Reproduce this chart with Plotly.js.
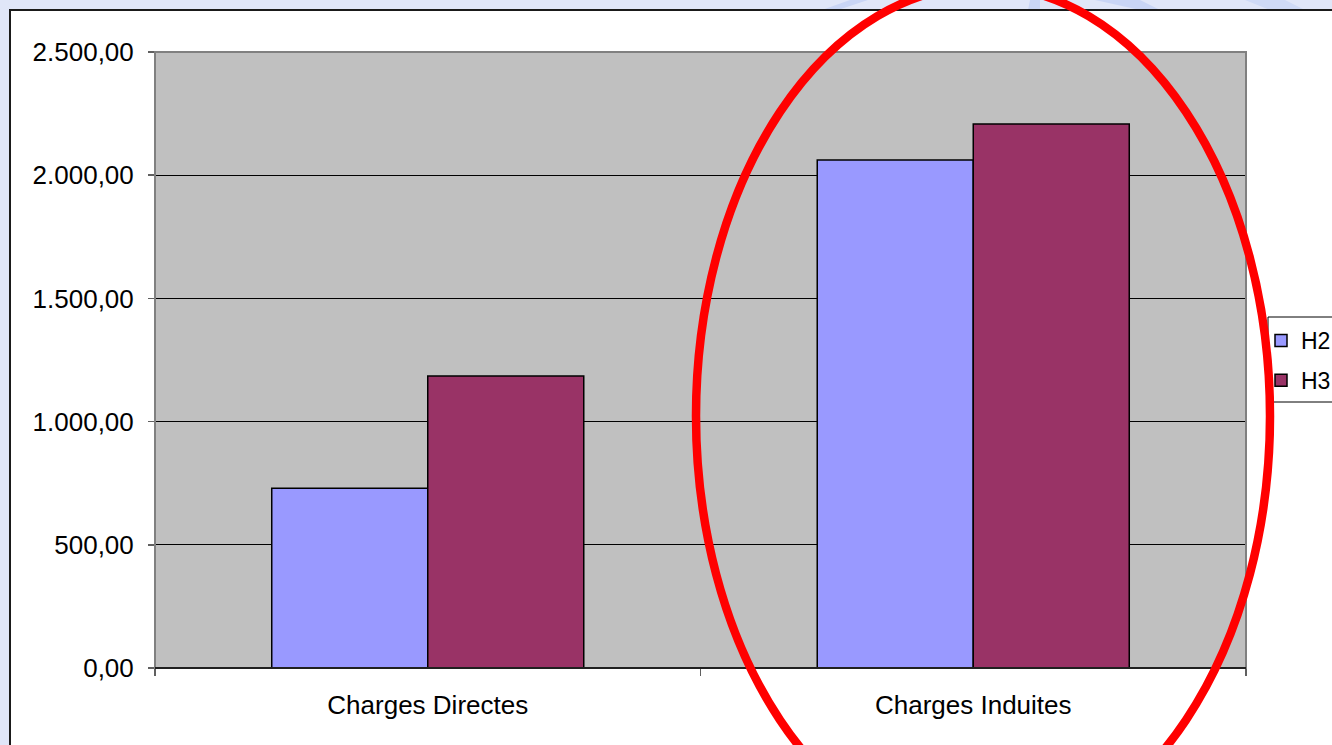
<!DOCTYPE html>
<html>
<head>
<meta charset="utf-8">
<script src="https://cdn.plot.ly/plotly-3.0.1.min.js"></script>
<style>
  html, body { margin: 0; padding: 0; background: #ffffff; }
  #chart { width: 1332px; height: 745px; }
</style>
</head>
<body>
<div id="chart"></div>
<script>
// Categories and series
const categories = ['Charges Directes', 'Charges Induites'];
const seriesNames = ['H2', 'H3'];
const h2Values = [730, 2062];
const h3Values = [1185, 2208];
const yTickValues = [0, 500, 1000, 1500, 2000, 2500];

// Figure geometry (pixels)
const W = 1332, H = 745;
const M = { l: 155, r: 86, t: 52, b: 77 };
const PW = W - M.l - M.r, PH = H - M.t - M.b;
const px2x = px => (px - M.l) / PW;
const px2y = py => (H - M.b - py) / PH;

const FONT = 'Liberation Sans, Arial, sans-serif';

const traces = [
  {
    type: 'bar', name: seriesNames[0], x: categories, y: h2Values,
    marker: { color: '#9999ff', line: { color: '#000000', width: 1.5 } },
    legendgroup: 'a', hoverinfo: 'skip'
  },
  {
    type: 'bar', name: seriesNames[1], x: categories, y: h3Values,
    marker: { color: '#993366', line: { color: '#000000', width: 1.5 } },
    legendgroup: 'b', hoverinfo: 'skip'
  }
];

// Frame strips, plot border, legend box and the highlight ellipse
const shapes = [
  { type: 'rect', xref: 'paper', yref: 'paper', layer: 'below',
    x0: px2x(0), x1: px2x(W + 5), y0: px2y(0), y1: px2y(10),
    fillcolor: '#e0e6f8', line: { width: 0 } },
  { type: 'rect', xref: 'paper', yref: 'paper', layer: 'below',
    x0: px2x(0), x1: px2x(10), y0: px2y(0), y1: px2y(H + 5),
    fillcolor: '#e0e6f8', line: { width: 0 } },
  // faint decorative strokes in the top strip
  { type: 'path', xref: 'paper', yref: 'paper', layer: 'below',
    path: `M ${px2x(822)},${px2y(10)} L ${px2x(838)},${px2y(10)} L ${px2x(868)},${px2y(0)} L ${px2x(850)},${px2y(0)} Z`,
    fillcolor: '#c9d5f5', line: { width: 0 } },
  { type: 'path', xref: 'paper', yref: 'paper', layer: 'below',
    path: `M ${px2x(1028)},${px2y(10)} L ${px2x(1040)},${px2y(10)} L ${px2x(1040)},${px2y(0)} L ${px2x(1030)},${px2y(0)} Z`,
    fillcolor: '#c9d5f5', line: { width: 0 } },
  { type: 'path', xref: 'paper', yref: 'paper', layer: 'below',
    path: `M ${px2x(1095)},${px2y(0)} L ${px2x(1140)},${px2y(0)} L ${px2x(1160)},${px2y(10)} L ${px2x(1140)},${px2y(10)} Z`,
    fillcolor: '#c9d5f5', line: { width: 0 } },
  { type: 'path', xref: 'paper', yref: 'paper', layer: 'below',
    path: `M ${px2x(1245)},${px2y(0)} L ${px2x(1285)},${px2y(0)} L ${px2x(1305)},${px2y(10)} L ${px2x(1270)},${px2y(10)} Z`,
    fillcolor: '#cfdaf6', line: { width: 0 } },
  // dark frame edges
  { type: 'line', xref: 'paper', yref: 'paper', layer: 'below',
    x0: px2x(9), x1: px2x(W + 5), y0: px2y(10), y1: px2y(10),
    line: { color: '#1a1a1a', width: 2 } },
  { type: 'line', xref: 'paper', yref: 'paper', layer: 'below',
    x0: px2x(10), x1: px2x(10), y0: px2y(9), y1: px2y(H + 5),
    line: { color: '#1a1a1a', width: 2 } },
  // legend box
  { type: 'rect', xref: 'paper', yref: 'paper', layer: 'below',
    x0: px2x(1268), x1: px2x(W + 10), y0: px2y(402), y1: px2y(317),
    fillcolor: '#ffffff', line: { color: '#000000', width: 1 } },
  // plot area border
  { type: 'rect', xref: 'paper', yref: 'paper', layer: 'above',
    x0: 0, x1: 1, y0: 0, y1: 1,
    line: { color: '#808080', width: 2 } },
  { type: 'line', xref: 'paper', yref: 'paper', layer: 'above',
    x0: 0, x1: 1, y0: 0, y1: 0,
    line: { color: '#000000', width: 1.5 } },
  // red highlight ellipse
  { type: 'circle', xref: 'paper', yref: 'paper', layer: 'above',
    x0: px2x(696), x1: px2x(1270), y0: px2y(846), y1: px2y(-14),
    line: { color: '#ff0000', width: 8.5 } }
];

const layout = {
  width: W, height: H,
  margin: { l: M.l, r: M.r, t: M.t, b: M.b, pad: 0, autoexpand: false },
  paper_bgcolor: '#ffffff',
  plot_bgcolor: '#c0c0c0',
  separators: ',.',
  font: { family: FONT, size: 26, color: '#000000' },
  barmode: 'group',
  bargap: 0.428,
  bargroupgap: 0,
  showlegend: true,
  legend: {
    x: px2x(1261), y: px2y(319), xanchor: 'left', yanchor: 'top',
    bgcolor: 'rgba(255,255,255,0)', borderwidth: 0,
    font: { family: FONT, size: 23, color: '#000000' },
    traceorder: 'grouped', tracegroupgap: 7
  },
  xaxis: {
    type: 'category',
    showgrid: false, zeroline: false, showline: false,
    ticks: 'outside', tickson: 'boundaries', ticklen: 7,
    tickcolor: '#606060', tickwidth: 1.5,
    ticklabelstandoff: 19,
    tickfont: { family: FONT, size: 26, color: '#000000' },
    fixedrange: true
  },
  yaxis: {
    range: [0, 2500],
    tickvals: yTickValues,
    tickformat: ',.2f',
    showgrid: true, gridcolor: '#000000', gridwidth: 1,
    zeroline: false, showline: false,
    ticks: 'outside', ticklen: 6, tickcolor: '#606060', tickwidth: 1.5,
    ticklabelstandoff: 9,
    tickfont: { family: FONT, size: 26, color: '#000000' },
    fixedrange: true
  },
  shapes: shapes
};

Plotly.newPlot('chart', traces, layout, { displayModeBar: false, staticPlot: true });
</script>
</body>
</html>
